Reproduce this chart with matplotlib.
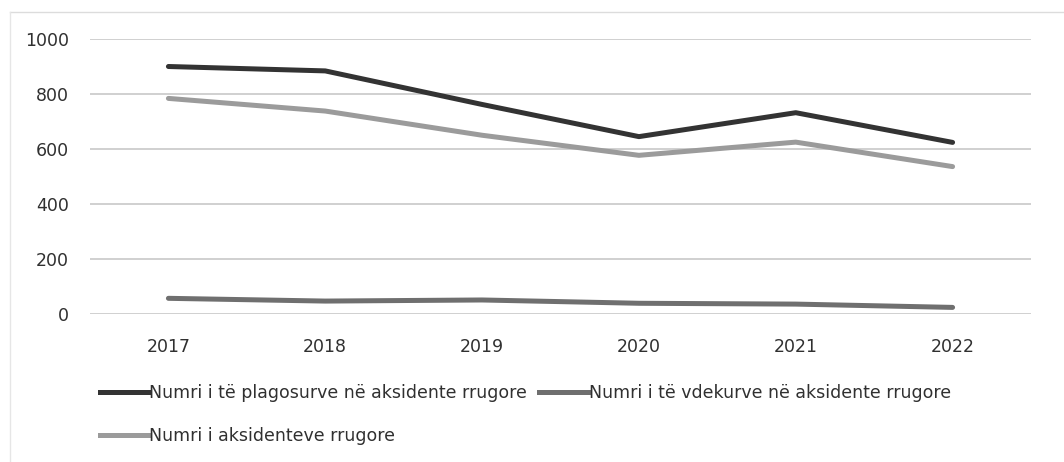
import matplotlib.pyplot as plt
from matplotlib.lines import Line2D

# Data
years = ["2017", "2018", "2019", "2020", "2021", "2022"]
plagosur = [900, 884, 762, 645, 732, 624]
vdekur = [57, 47, 51, 39, 36, 24]
aksidente = [784, 738, 650, 577, 625, 536]
yticks = [0, 200, 400, 600, 800, 1000]

labels = ["Numri i të plagosurve në aksidente rrugore",
          "Numri i të vdekurve në aksidente rrugore",
          "Numri i aksidenteve rrugore"]
colors = ["#333333", "#6f6f6f", "#9b9b9b"]

plt.rcParams['font.family'] = ['DejaVu Sans']

fig = plt.figure(figsize=(10.64, 4.62), dpi=100)
ax = fig.add_axes([90 / 1064, 1 - 314 / 462, (1031 - 90) / 1064, 275 / 462])

x = list(range(len(years)))
ax.plot(x, plagosur, color=colors[0], lw=3.6, solid_capstyle='round', zorder=3)
ax.plot(x, vdekur, color=colors[1], lw=3.6, solid_capstyle='round', zorder=3)
ax.plot(x, aksidente, color=colors[2], lw=3.6, solid_capstyle='round', zorder=3)

ax.set_xlim(-0.5, len(years) - 0.5)
ax.set_ylim(0, 1000)
ax.set_yticks(yticks)
ax.set_yticklabels([str(v) for v in yticks])
ax.set_xticks(x)
ax.set_xticklabels(years)
ax.tick_params(axis='both', length=0, labelsize=12.5, colors="#303030")
ax.tick_params(axis='y', pad=15)
ax.tick_params(axis='x', pad=17)
ax.grid(axis='y', color="#c4c4c4", lw=1.1)
ax.set_axisbelow(True)
for s in ax.spines.values():
    s.set_visible(False)

# legend: order so row 1 = plagosur, vdekur; row 2 = aksidente
handles = [Line2D([], [], color=colors[0], lw=3.6),
           Line2D([], [], color=colors[2], lw=3.6),
           Line2D([], [], color=colors[1], lw=3.6)]
fig.legend(handles, [labels[0], labels[2], labels[1]], ncol=2,
           loc='upper left', bbox_to_anchor=(84 / 1064, 1 - 368 / 462),
           frameon=False, fontsize=12.5, handlelength=2.8,
           handletextpad=0.05, columnspacing=0.7, labelspacing=1.45,
           labelcolor="#303030")

# faint scan border at top and left
fig.add_artist(Line2D([10 / 1064, 1], [1 - 12 / 462, 1 - 12 / 462], color="#dcdcdc", lw=1))
fig.add_artist(Line2D([10 / 1064, 10 / 1064], [0, 1 - 12 / 462], color="#e6e6e6", lw=1))

fig.savefig("out.png", dpi=100)
